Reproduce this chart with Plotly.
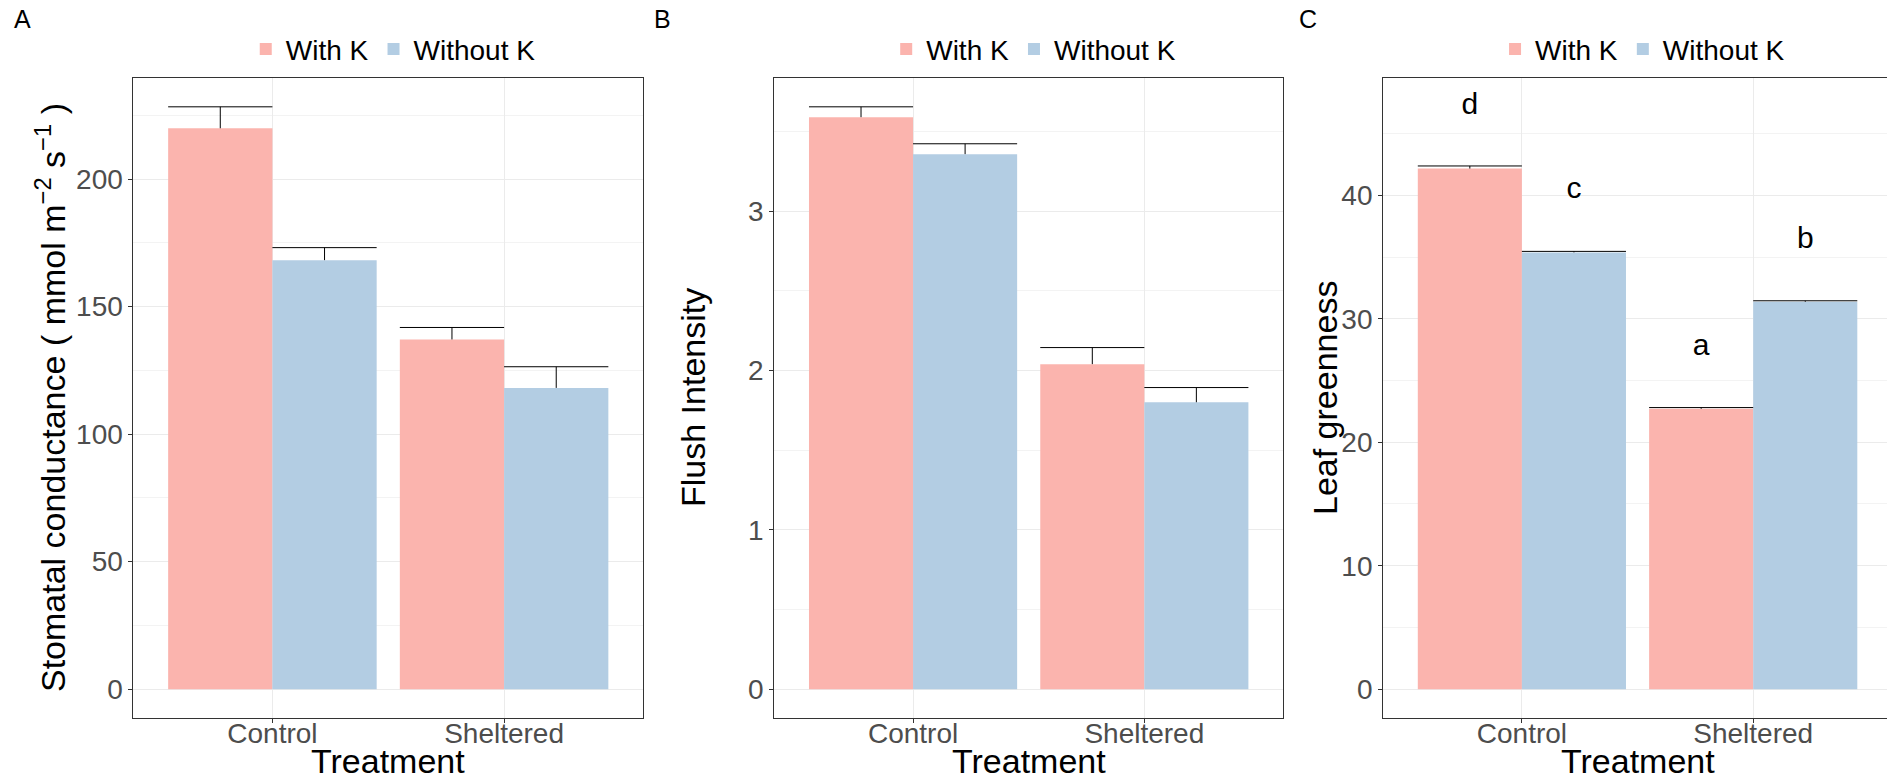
import plotly.graph_objects as go

W, H = 1887, 780

categories = ["Control", "Sheltered"]
series_names = ["With K", "Without K"]
colors = ["#FBB4AE", "#B3CDE3"]

# Panel A: stomatal conductance
a_with = [219.9, 137.1]
a_with_se = [8.4, 4.7]
a_without = [168.2, 118.1]
a_without_se = [4.9, 8.3]

# Panel B: flush intensity
b_with = [3.590, 2.040]
b_with_se = [0.065, 0.104]
b_without = [3.358, 1.801]
b_without_se = [0.065, 0.092]

# Panel C: leaf greenness
c_with = [42.17, 22.71]
c_with_se = [0.21, 0.10]
c_without = [35.38, 31.38]
c_without_se = [0.08, 0.08]
c_with_letters = ["d", "a"]
c_without_letters = ["c", "b"]
letter_offset = 5

ytitles = ["Stomatal conductance ( mmol m<sup>\u22122</sup> s<sup>\u22121</sup> )",
           "Flush Intensity", "Leaf greenness"]
ydticks = [50, 1, 10]

FONT = "Liberation Sans, Arial, sans-serif"

# layout geometry (pixels)
box_left = [133.4, 774.3, 1383.1]
box_right = [643.1, 1283.1, 1892.0]
box_top, box_bottom = 77.7, 718.3
ytitle_x = [50, 693, 1325]
panel_label_x = [12, 652, 1297]

panels = [
    (a_with, a_with_se, a_without, a_without_se, None, None),
    (b_with, b_with_se, b_without, b_without_se, None, None),
    (c_with, c_with_se, c_without, c_without_se, c_with_letters, c_without_letters),
]

fig = go.Figure()
annotations = []
layout_axes = {}
bw = 0.45
idx = [i + 1 for i in range(len(categories))]

for p, (vw, sw, vo, so, lw, lo) in enumerate(panels):
    n = p + 1
    xa = "x" if n == 1 else f"x{n}"
    ya = "y" if n == 1 else f"y{n}"
    leg = "legend" if n == 1 else f"legend{n}"
    ex, ey = [], []
    tops = []
    for s, (vals, ses, letters) in enumerate([(vw, sw, lw), (vo, so, lo)]):
        off = -bw / 2 if s == 0 else bw / 2
        xs = [i + off for i in idx]
        fig.add_trace(go.Bar(x=xs, y=vals, width=bw, name=series_names[s],
                             marker=dict(color=colors[s], line=dict(width=0)),
                             xaxis=xa, yaxis=ya, legend=leg, showlegend=True,
                             hoverinfo="skip"))
        for x, v, e in zip(xs, vals, ses):
            ex += [x, x, None, x - bw / 2, x + bw / 2, None]
            ey += [v, v + e, None, v + e, v + e, None]
            tops.append(v + e)
        if letters is not None:
            ly = [v + letter_offset for v in vals]
            tops += ly
            fig.add_trace(go.Scatter(x=xs, y=ly, text=letters, mode="text",
                                     textfont=dict(family=FONT, size=30, color="black"),
                                     xaxis=xa, yaxis=ya, showlegend=False, hoverinfo="skip"))
    fig.add_trace(go.Scatter(x=ex, y=ey, mode="lines", line=dict(color="black", width=1),
                             xaxis=xa, yaxis=ya, showlegend=False, hoverinfo="skip"))
    M = max(tops)
    yr = [-0.05 * M, 1.05 * M]
    d0 = box_left[p] / W
    d1 = min(box_right[p] / W, 1.0)
    full_span = 2.2
    xr1 = 0.4 + full_span * (min(box_right[p], W) - box_left[p]) / (box_right[p] - box_left[p])
    xkey = "xaxis" if n == 1 else f"xaxis{n}"
    ykey = "yaxis" if n == 1 else f"yaxis{n}"
    layout_axes[xkey] = dict(
        domain=[d0, d1], anchor=ya, range=[0.4, xr1], tickmode="array",
        tickvals=idx, ticktext=categories, showgrid=True, gridcolor="#EBEBEB", gridwidth=1,
        zeroline=False, showline=True, linecolor="#333333", linewidth=1, mirror=True,
        ticks="outside", ticklen=4, tickcolor="#333333", tickwidth=1,
        ticklabelstandoff=-14,
        tickfont=dict(family=FONT, size=28, color="#4D4D4D"), fixedrange=True)
    layout_axes[ykey] = dict(
        domain=[1 - box_bottom / H, 1 - box_top / H], anchor=xa, range=yr,
        tickmode="linear", tick0=0, dtick=ydticks[p],
        showgrid=True, gridcolor="#EBEBEB", gridwidth=1,
        minor=dict(dtick=ydticks[p] / 2, tick0=0, showgrid=True, gridcolor="#F3F3F3", gridwidth=1),
        zeroline=False, showline=True, linecolor="#333333", linewidth=1, mirror=(n != 3),
        ticks="outside", ticklen=4, tickcolor="#333333", tickwidth=1,
        tickfont=dict(family=FONT, size=28, color="#4D4D4D"), fixedrange=True)
    layout_axes[leg] = dict(
        orientation="h", x=(box_left[p] + box_right[p]) / 2 / W + 5 / W, xanchor="center",
        y=1 - 49.3 / H, yanchor="middle", font=dict(family=FONT, size=28, color="black"),
        bgcolor="rgba(0,0,0,0)", itemclick=False, itemdoubleclick=False)
    annotations.append(dict(text="Treatment", xref="paper", yref="paper",
                            x=(box_left[p] + box_right[p]) / 2 / W, y=1 - 761 / H,
                            xanchor="center", yanchor="middle", showarrow=False,
                            font=dict(family=FONT, size=34, color="black")))
    annotations.append(dict(text=ytitles[p], xref="paper", yref="paper",
                            x=ytitle_x[p] / W, y=1 - (box_top + box_bottom) / 2 / H,
                            xanchor="center", yanchor="middle", textangle=-90, showarrow=False,
                            font=dict(family=FONT, size=34, color="black")))
    annotations.append(dict(text="ABC"[p], xref="paper", yref="paper",
                            x=panel_label_x[p] / W, y=1 - 19 / H,
                            xanchor="left", yanchor="middle", showarrow=False,
                            font=dict(family=FONT, size=25, color="black")))

fig.update_layout(
    width=W, height=H, autosize=False,
    margin=dict(l=0, r=0, t=0, b=0),
    paper_bgcolor="white", plot_bgcolor="white",
    barmode="overlay", annotations=annotations,
    font=dict(family=FONT),
    **layout_axes,
)
fig.write_html("out.html")
